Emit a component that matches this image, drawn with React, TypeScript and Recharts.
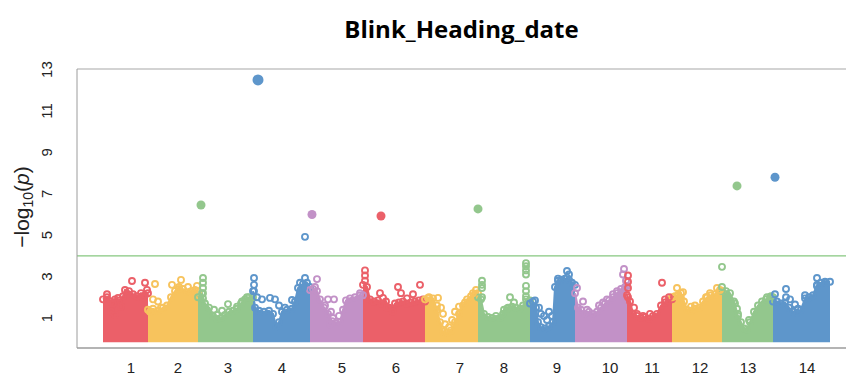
import {
  ComposedChart, Area, Scatter, XAxis, YAxis, ReferenceLine,
} from 'recharts'

// chromosome labels and where each label sits on the cumulative position axis
const chromNames = ['1', '2', '3', '4', '5', '6', '7', '8', '9', '10', '11', '12', '13', '14']
const chromLabelPos = [54, 101, 151, 205, 265, 319, 383, 427, 480, 533, 575, 623, 671, 730]

const yTicks = [1, 3, 5, 7, 9, 11, 13]
const threshold = 4

// upper edge of the dense SNP cloud per chromosome: [position, -log10(p)]
const chr1Top = [[26, 1.9], [30, 2.0], [34, 1.8], [38, 1.9], [42, 1.85], [46, 2.05], [48, 2.35], [52, 2.3], [56, 2.15], [60, 2.05], [64, 2.2], [68, 2.1], [71, 2.2]]
const chr2Top = [[71, 1.4], [76, 1.45], [81, 1.35], [86, 1.5], [90, 1.6], [94, 2.0], [98, 2.3], [102, 2.5], [106, 2.4], [110, 2.25], [114, 2.3], [118, 2.35], [121, 2.3]]
const chr3Top = [[121, 2.0], [125, 2.2], [128, 1.7], [132, 1.5], [136, 1.1], [140, 0.95], [144, 1.0], [148, 1.15], [152, 1.3], [156, 1.35], [160, 1.45], [164, 1.7], [168, 1.9], [172, 2.0], [176, 2.0]]
const chr4Top = [[176, 2.3], [178, 1.5], [182, 1.35], [187, 1.3], [192, 1.35], [196, 1.2], [199, 0.6], [202, 0.8], [205, 1.3], [210, 1.4], [215, 1.45], [218, 1.8], [221, 2.45], [226, 2.65], [230, 2.7], [233, 2.5]]
const chr5Top = [[233, 2.35], [236, 2.4], [240, 2.3], [243, 1.9], [247, 1.5], [251, 1.2], [255, 0.85], [259, 0.75], [263, 0.8], [266, 1.4], [269, 1.85], [273, 1.95], [278, 2.0], [283, 2.1], [286, 2.1]]
const chr6Top = [[286, 2.6], [290, 2.5], [293, 1.9], [297, 1.8], [301, 1.85], [305, 1.7], [309, 1.8], [312, 1.5], [315, 1.45], [318, 1.7], [322, 1.75], [326, 1.8], [330, 1.7], [334, 1.75], [338, 1.8], [342, 1.85], [346, 1.9], [348, 1.8]]
const chr7Top = [[348, 1.9], [352, 2.0], [356, 1.95], [360, 1.4], [363, 0.8], [366, 0.35], [370, 0.3], [374, 0.4], [378, 0.8], [382, 1.2], [386, 1.6], [390, 1.9], [394, 2.05], [398, 2.15], [401, 2.2]]
const chr8Top = [[401, 2.0], [404, 1.9], [407, 1.2], [411, 1.05], [415, 1.0], [419, 1.1], [423, 1.0], [427, 1.4], [431, 1.5], [435, 1.55], [439, 1.5], [443, 1.45], [446, 1.6], [449, 1.9], [453, 1.85]]
const chr9Top = [[453, 1.7], [456, 1.8], [459, 1.5], [461, 0.8], [464, 0.55], [468, 0.5], [472, 0.6], [476, 0.8], [478, 2.5], [481, 2.8], [484, 2.85], [488, 2.9], [492, 2.85], [495, 2.7], [498, 2.6]]
const chr10Top = [[498, 2.2], [501, 1.5], [504, 1.4], [508, 1.2], [512, 1.3], [516, 1.2], [520, 1.3], [524, 1.5], [528, 1.7], [532, 1.85], [536, 2.0], [540, 2.2], [544, 2.4], [548, 2.5], [550, 2.55]]
const chr11Top = [[550, 2.1], [553, 1.8], [556, 1.2], [560, 1.1], [564, 1.0], [568, 1.05], [572, 0.95], [576, 1.1], [580, 1.2], [584, 1.6], [588, 1.75], [592, 1.85], [595, 1.9]]
const chr12Top = [[595, 2.0], [598, 2.05], [601, 2.1], [604, 2.2], [607, 1.8], [610, 1.4], [614, 1.35], [618, 1.45], [622, 1.5], [626, 1.8], [630, 2.0], [634, 2.1], [638, 2.15], [642, 2.25], [645, 2.3]]
const chr13Top = [[645, 2.3], [649, 2.3], [653, 2.2], [657, 1.8], [661, 1.1], [664, 0.8], [667, 0.5], [670, 0.45], [673, 0.8], [677, 1.3], [681, 1.6], [685, 1.8], [689, 1.9], [693, 2.0], [696, 2.0]]
const chr14Top = [[696, 1.8], [700, 1.8], [704, 1.7], [708, 1.75], [712, 1.5], [716, 1.3], [720, 1.25], [724, 1.4], [728, 1.95], [732, 2.0], [736, 2.1], [740, 2.6], [744, 2.7], [748, 2.75], [753, 2.75]]

// individual SNPs standing out of the cloud
const chr1Rings = [[30, 2.15], [41, 1.97], [55, 2.79], [68, 2.7], [70, 2.36], [66, 2.0], [36, 1.7], [44, 1.55], [34, 1.3], [38, 1.15]]
const chr2Rings = [[78, 2.64], [95, 2.6], [104, 2.84], [111, 2.5], [120, 2.55], [102, 2.4], [81, 1.8], [84, 1.5], [76, 1.9], [73, 1.3]]
const chr3Rings = [[126, 2.93], [126, 2.7], [126, 2.45], [126, 2.2], [126, 1.95], [151, 1.67], [170, 2.0], [160, 1.55], [145, 1.35], [140, 1.15], [137, 1.4], [165, 1.8]]
const chr4Rings = [[177, 2.93], [177, 2.6], [177, 2.3], [185, 1.9], [193, 1.97], [198, 1.9], [215, 1.87], [228, 2.93], [223, 2.7], [226, 2.45], [180, 2.0], [202, 1.6], [208, 1.5], [228, 4.92]]
const chr5Rings = [[240, 2.88], [238, 2.5], [251, 1.9], [257, 1.9], [248, 1.6], [254, 1.3], [256, 1.0], [253, 0.7], [262, 1.1], [283, 2.2]]
const chr6Rings = [[288, 3.3], [288, 3.05], [288, 2.8], [303, 2.2], [306, 1.97], [321, 2.5], [324, 2.2], [343, 2.6], [336, 2.15], [330, 1.95], [310, 1.5], [316, 1.3]]
const chr7Rings = [[351, 1.97], [361, 1.97], [364, 1.5], [366, 1.2], [368, 0.7], [372, 0.55], [375, 0.9], [378, 1.3], [382, 1.55], [388, 1.75], [396, 2.2], [399, 2.35], [360, 1.6]]
const chr8Rings = [[405, 2.8], [405, 2.6], [405, 2.45], [405, 2.0], [449, 3.65], [449, 3.5], [449, 3.3], [449, 3.1], [449, 2.55], [449, 2.3], [449, 2.05], [433, 2.0], [437, 1.75], [430, 1.45], [426, 1.2]]
const chr9Rings = [[458, 1.85], [462, 1.5], [467, 1.1], [472, 1.3], [470, 0.9], [475, 1.1], [490, 3.27], [481, 2.9], [492, 3.1], [490, 2.95], [464, 1.2]]
const chr10Rings = [[500, 2.45], [506, 1.8], [510, 1.4], [522, 1.6], [526, 1.75], [530, 1.9], [536, 2.15], [540, 2.3], [547, 3.37], [546, 3.1], [549, 2.8]]
const chr11Rings = [[551, 3.05], [551, 2.75], [551, 2.45], [551, 2.0], [557, 1.5], [560, 1.2], [566, 1.1], [573, 1.2], [585, 2.7], [588, 1.9], [592, 2.0]]
const chr12Rings = [[600, 2.45], [606, 2.25], [604, 1.97], [614, 1.55], [618, 1.6], [629, 2.0], [633, 2.2], [640, 2.45], [643, 2.35]]
const chr13Rings = [[645, 3.47], [645, 2.5], [658, 1.7], [660, 1.45], [661, 1.2], [672, 0.9], [690, 2.0], [694, 2.05]]
const chr14Rings = [[698, 2.15], [709, 2.4], [709, 2.0], [728, 2.1], [740, 2.93], [740, 2.55], [749, 2.7], [718, 1.65], [721, 1.45], [713, 1.9]]

// significant hits
const hitPos = [181, 124, 235, 304, 401, 660, 698]
const hitP = [12.5, 6.46, 6.0, 5.93, 6.27, 7.38, 7.8]
const hitChrom = [4, 3, 5, 6, 8, 13, 14]

const PALETTE = ['#eb6069', '#f7c35d', '#93c78d', '#5e96cb', '#c291c7']
const CLOUD_FLOOR = -0.12

const tops = [chr1Top, chr2Top, chr3Top, chr4Top, chr5Top, chr6Top, chr7Top, chr8Top, chr9Top, chr10Top, chr11Top, chr12Top, chr13Top, chr14Top]
const rings = [chr1Rings, chr2Rings, chr3Rings, chr4Rings, chr5Rings, chr6Rings, chr7Rings, chr8Rings, chr9Rings, chr10Rings, chr11Rings, chr12Rings, chr13Rings, chr14Rings]
const colourOf = (i: number) => PALETTE[i % PALETTE.length]

const cloudRows = tops.flatMap((env, i) =>
  env.map(([pos, p]) => ({ pos, ['c' + i]: [CLOUD_FLOOR, p] })),
)

const FONT = '"Liberation Sans", Arial, sans-serif'

function Ring(props: any) {
  const { cx, cy, fill } = props
  if (cx == null || cy == null) return null
  return <circle cx={cx} cy={cy} r={3} fill="none" stroke={fill} strokeWidth={1.9} />
}

function Dot(props: any) {
  const { cx, cy, fill, payload } = props
  if (cx == null || cy == null) return null
  return <circle cx={cx} cy={cy} r={payload.p > 10 ? 5.5 : 4.5} fill={fill} />
}

function YTick({ x, y, payload }: any) {
  const cx = x - 22
  return (
    <text
      x={cx} y={y} transform={`rotate(-90, ${cx}, ${y})`}
      textAnchor="middle" dominantBaseline="central"
      fontSize={15} fill="#222" fontFamily={FONT}
    >
      {payload.value}
    </text>
  )
}

export default function App() {
  return (
    <div style={{ position: 'absolute', left: 0, top: 0, width: 847, height: 379, background: '#fff' }}>
      <div style={{
        position: 'absolute', left: 77, top: 17, width: 769, textAlign: 'center',
        fontFamily: '"Open Sans", sans-serif', fontWeight: 700, fontSize: 24, lineHeight: '24px', color: '#000',
      }}>
        Blink_Heading_date
      </div>
      <div style={{
        position: 'absolute', left: 25, top: 207, transform: 'translate(-50%, -50%) rotate(-90deg)',
        whiteSpace: 'nowrap', fontFamily: FONT, fontSize: 21, color: '#222', lineHeight: '24px',
      }}>
        −log<span style={{ fontSize: 14, verticalAlign: -4 }}>10</span>(<i>p</i>)
      </div>
      <ComposedChart
        width={847} height={379} data={cloudRows}
        margin={{ top: 69, right: 1, bottom: 0, left: 0 }}
      >
        <XAxis
          type="number" dataKey="pos" domain={[0, 769]} ticks={chromLabelPos}
          tickFormatter={(_v: number, i: number) => chromNames[i]}
          tickLine={false} tickSize={0} tickMargin={14} height={31} interval={0}
          axisLine={{ stroke: '#b4b4b4', strokeWidth: 2 }}
          tick={{ fontSize: 15, fill: '#222', fontFamily: FONT }}
          allowDataOverflow
        />
        <YAxis
          type="number" domain={[-0.45, 13.03]} ticks={yTicks} width={77}
          tickLine={false} axisLine={{ stroke: '#9c9c9c' }} tick={<YTick />}
          allowDataOverflow interval={0}
        />
        <ReferenceLine y={13.03} stroke="#c4c4c4" strokeWidth={1.5} />
        <ReferenceLine y={threshold} stroke="#86c77f" strokeWidth={1.3} />
        {tops.map((_, i) => (
          <Area
            key={'c' + i} dataKey={'c' + i} type="linear"
            fill={colourOf(i)} fillOpacity={1} stroke={colourOf(i)} strokeWidth={2}
            dot={false} activeDot={false} connectNulls={false} isAnimationActive={false}
          />
        ))}
        {/* rings along the cloud's upper edge roughen its outline */}
        {tops.map((env, i) => (
          <Scatter
            key={'e' + i} dataKey="p" fill={colourOf(i)}
            data={env.map(([pos, p]) => ({ pos, p }))}
            shape={<Ring />} isAnimationActive={false}
          />
        ))}
        {rings.map((r, i) => (
          <Scatter
            key={'r' + i} dataKey="p" fill={colourOf(i)}
            data={r.map(([pos, p]) => ({ pos, p }))}
            shape={<Ring />} isAnimationActive={false}
          />
        ))}
        <Scatter
          dataKey="p"
          data={hitPos.map((pos, i) => ({ pos, p: hitP[i], fill: colourOf(hitChrom[i] - 1) }))}
          shape={(props: any) => <Dot {...props} fill={props.payload.fill} />}
          isAnimationActive={false}
        />
      </ComposedChart>
    </div>
  )
}
